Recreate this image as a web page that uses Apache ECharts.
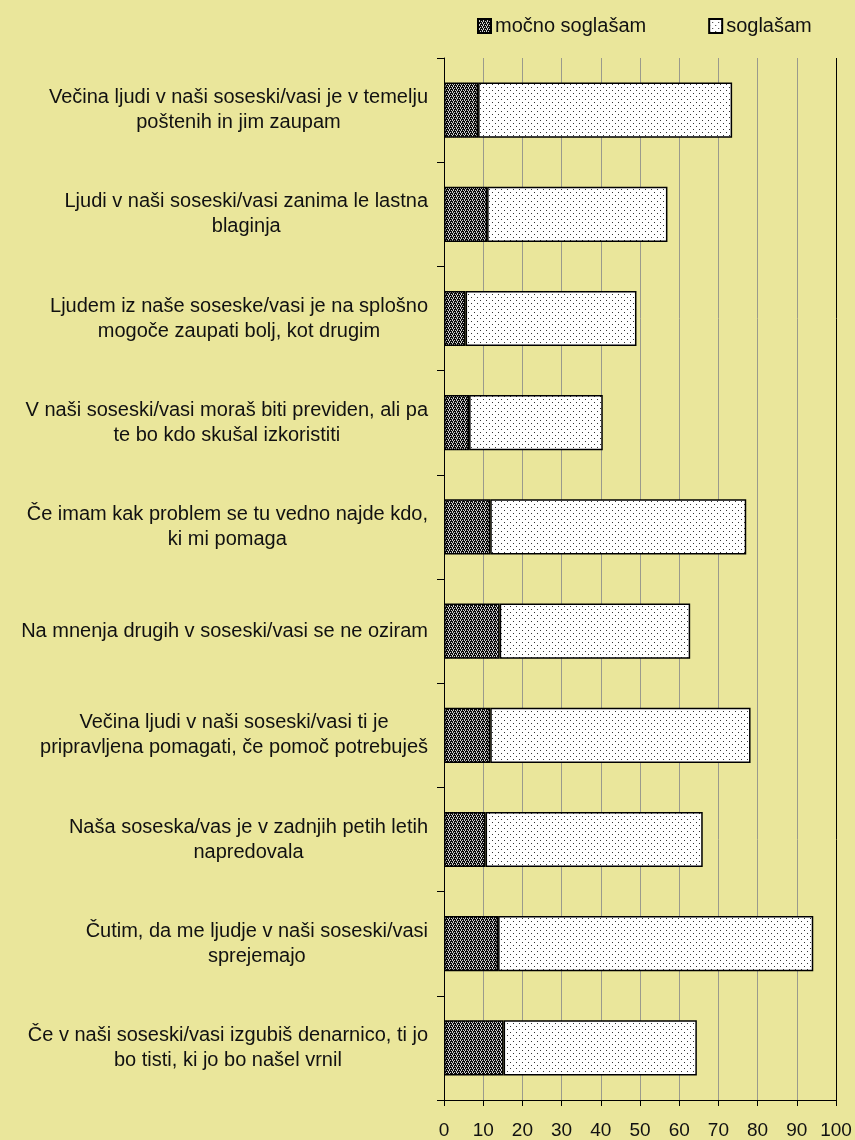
<!DOCTYPE html>
<html><head><meta charset="utf-8">
<script src="https://cdn.jsdelivr.net/npm/echarts@6/dist/echarts.min.js"></script>
<style>html,body{margin:0;padding:0;background:#EAE69B;}#c{width:855px;height:1140px;}</style>
</head><body><div id="c"></div>
<script>
const categories = [
  "Večina ljudi v naši soseski/vasi je v temelju\npoštenih in jim zaupam",
  "Ljudi v naši soseski/vasi zanima le lastna\nblaginja",
  "Ljudem iz naše soseske/vasi je na splošno\nmogoče zaupati bolj, kot drugim",
  "V naši soseski/vasi moraš biti previden, ali pa\nte bo kdo skušal izkoristiti",
  "Če imam kak problem se tu vedno najde kdo,\nki mi pomaga",
  "Na mnenja drugih v soseski/vasi se ne oziram",
  "Večina ljudi v naši soseski/vasi ti je\npripravljena pomagati, če pomoč potrebuješ",
  "Naša soseska/vas je v zadnjih petih letih\nnapredovala",
  "Čutim, da me ljudje v naši soseski/vasi\nsprejemajo",
  "Če v naši soseski/vasi izgubiš denarnico, ti jo\nbo tisti, ki jo bo našel vrnil"
];
const seriesNames = ["močno soglašam", "soglašam"];
const mocnoSoglasam = [8.7, 11.0, 5.5, 6.4, 11.8, 14.2, 11.8, 10.6, 13.8, 15.2];
const soglasam = [64.8, 46.0, 43.6, 34.1, 65.3, 48.6, 66.4, 55.4, 80.4, 49.3];
const xTicks = [0, 10, 20, 30, 40, 50, 60, 70, 80, 90, 100];

function makeDark() {
  const c = document.createElement('canvas'); c.width = 4; c.height = 4;
  const g = c.getContext('2d');
  g.fillStyle = '#0a0a0a'; g.fillRect(0, 0, 4, 4);
  g.fillStyle = '#cfcfcf';
  [[0,0],[2,0],[1,1],[3,2],[1,2],[0,3]].forEach(p => g.fillRect(p[0], p[1], 1, 1));
  return c;
}
function makeLight() {
  const c = document.createElement('canvas'); c.width = 6; c.height = 6;
  const g = c.getContext('2d');
  g.fillStyle = '#fff'; g.fillRect(0, 0, 6, 6);
  g.fillStyle = '#333';
  g.fillRect(0, 0, 1, 1); g.fillRect(3, 3, 1, 1);
  return c;
}
const darkPat = { image: makeDark(), repeat: 'repeat' };
const lightPat = { image: makeLight(), repeat: 'repeat' };

const gridColors = xTicks.map((t, i) => i === xTicks.length - 1 ? '#000' : '#9a9a8c');

const chart = echarts.init(document.getElementById('c'), null, { renderer: 'canvas' });
chart.setOption({
  backgroundColor: '#EAE69B',
  animation: false,
  textStyle: { fontFamily: '"Liberation Sans", Arial, sans-serif' },
  legend: {
    left: 472, top: 11,
    itemWidth: 13, itemHeight: 14, itemGap: 62,
    icon: 'rect',
    textStyle: { fontSize: 20, color: '#111', padding: [0, 0, 0, -1] },
    data: seriesNames
  },
  grid: { left: 444, right: 19, top: 58, bottom: 39, containLabel: false },
  xAxis: {
    type: 'value', min: 0, max: 100, interval: 10,
    axisLine: { show: true, lineStyle: { color: '#000', width: 1 } },
    axisTick: { show: true, length: 6, lineStyle: { color: '#000' } },
    axisLabel: { fontSize: 19, color: '#111', margin: 21 },
    splitLine: { show: true, lineStyle: { color: gridColors, width: 1 } }
  },
  yAxis: {
    type: 'category', inverse: true, data: categories,
    axisLine: { show: true, lineStyle: { color: '#000', width: 1 } },
    axisTick: { show: true, length: 7, lineStyle: { color: '#000' } },
    axisLabel: {
      margin: 16, fontSize: 20, color: '#111', lineHeight: 25,
      formatter: v => v.split('\n').map(s => '{c|' + s + '}').join('\n'),
      rich: { c: { align: 'center', fontSize: 20, lineHeight: 25, color: '#111' } }
    }
  },
  series: [
    {
      name: seriesNames[0], type: 'bar', stack: 's', barWidth: '53%',
      data: mocnoSoglasam,
      itemStyle: { color: darkPat, borderColor: '#000', borderWidth: 1.5 }
    },
    {
      name: seriesNames[1], type: 'bar', stack: 's', barWidth: '53%',
      data: soglasam,
      itemStyle: { color: lightPat, borderColor: '#000', borderWidth: 1.5 }
    }
  ]
});
</script></body></html>
